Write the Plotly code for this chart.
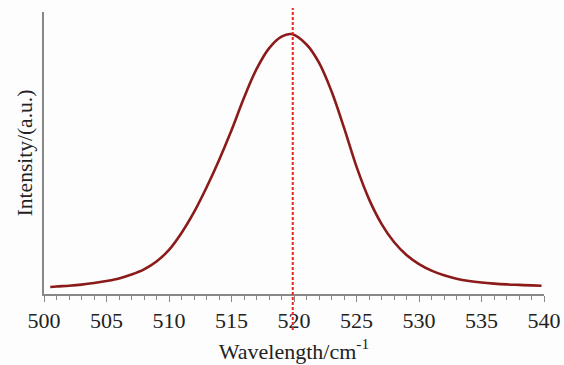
import plotly.graph_objects as go

wavelength = [500.5, 501, 502, 503, 504, 505, 506, 507, 508, 509, 510, 511, 512, 513, 514,
              515, 516, 517, 518, 519, 519.8, 521, 522, 523, 524, 525, 526, 527, 528, 529,
              530, 531, 532, 533, 534, 535, 536, 537, 538, 539, 539.8]
intensity = [2.7, 2.9, 3.2, 3.6, 4.2, 5.0, 6.0, 7.5, 9.5, 12.5, 17, 23.5, 31.5, 41, 51.5,
             63, 75.5, 86.5, 94.5, 99, 100, 96, 89, 78, 64, 49, 36.5, 27, 20, 15,
             11.5, 9, 7.2, 5.9, 5, 4.4, 4.0, 3.7, 3.5, 3.3, 3.2]
peak_position = 519.9
x_ticks = [500, 505, 510, 515, 520, 525, 530, 535, 540]

fig = go.Figure()
fig.add_trace(go.Scatter(x=wavelength, y=intensity, mode="lines",
                         line=dict(color="#8b1a1a", width=2.6, shape="spline", smoothing=1.0),
                         showlegend=False))
fig.add_shape(type="line", xref="x", yref="paper", x0=peak_position, x1=peak_position,
              y0=-0.128, y1=1.014, line=dict(color="#e8251f", width=2, dash="3px,2px"),
              layer="above")

font = "Liberation Serif, Times New Roman, serif"
fig.update_layout(
    width=564, height=365,
    margin=dict(l=44, r=20, t=12, b=71),
    paper_bgcolor="#fdfdfd", plot_bgcolor="#fdfdfd",
    font=dict(family=font, size=20, color="#222"),
    xaxis=dict(range=[500, 540], tickvals=x_ticks, ticks="outside", ticklen=6,
               tickcolor="#888", tickwidth=1.3, showline=True, linecolor="#888",
               linewidth=1.5, showgrid=False, zeroline=False, automargin=False,
               tickfont=dict(family=font, size=22, color="#222"),
               minor=dict(dtick=1, ticks="outside", ticklen=4, tickcolor="#888", tickwidth=1),
               title=dict(text="Wavelength/cm<sup>-1</sup>", standoff=11,
                          font=dict(family=font, size=22, color="#222"))),
    yaxis=dict(range=[0, 108.5], showticklabels=False, ticks="", showline=True,
               linecolor="#888", linewidth=1.5, showgrid=False, zeroline=False,
               automargin=False,
               title=dict(text="Intensity/(a.u.)", standoff=4,
                          font=dict(family=font, size=21.5, color="#222"))),
)
fig.write_html("out.html", config={"displayModeBar": False},
               post_script="document.body.style.margin='0';document.body.style.background='#fdfdfd';")
